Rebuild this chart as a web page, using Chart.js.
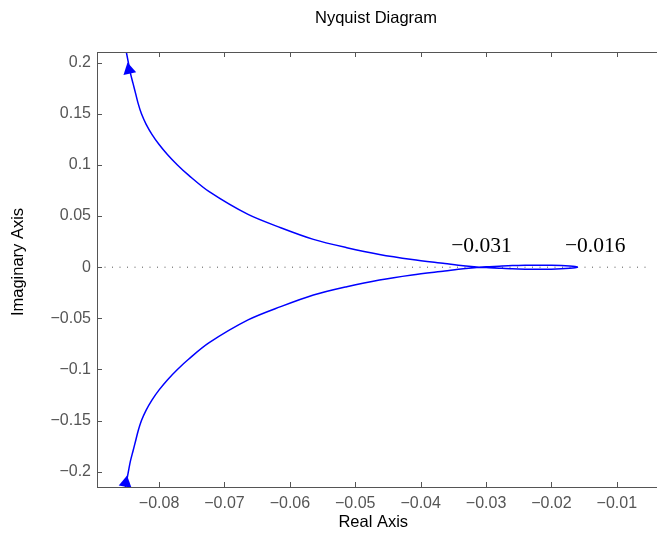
<!DOCTYPE html>
<html lang="en">
<head>
    <meta charset="UTF-8">
    <title>Nyquist Diagram</title>
    <script src="https://cdn.jsdelivr.net/npm/chart.js@4.4.1/dist/chart.umd.min.js"></script>
    <style>
        body {
            margin: 0;
            background: #fff;
            overflow: hidden;
        }
        #wrap {
            position: relative;
            width: 657px;
            height: 538px;
        }
    </style>
</head>
<body>
    <div id="wrap"><canvas id="nyquist"></canvas></div>

    <script>
        // upper branch, from the top edge down to the real-axis crossing
        const upperRe = [-0.0853, -0.0850, -0.0847, -0.0844, -0.0840, -0.0836, -0.0832, -0.0827, -0.0820, -0.0811,
                         -0.0800, -0.0787, -0.0772, -0.0755, -0.0724, -0.0664, -0.0614, -0.0564, -0.0513, -0.0463,
                         -0.0413, -0.0363, -0.0335, -0.0310];
        const upperIm = [0.220, 0.210, 0.200, 0.190, 0.180, 0.170, 0.160, 0.150, 0.140, 0.130,
                         0.120, 0.110, 0.100, 0.090, 0.0741, 0.0516, 0.0386, 0.0272, 0.0191, 0.0125,
                         0.0076, 0.0037, 0.0015, 0];

        // small loop right of the crossing (half height)
        const loopRe = [-0.0295, -0.0280, -0.0260, -0.0240, -0.0220, -0.0200, -0.0185, -0.0172, -0.0164, -0.0160];
        const loopIm = [0.0005, 0.0010, 0.0016, 0.0019, 0.0020, 0.0019, 0.0016, 0.0011, 0.0006, 0];

        // lower branch, from the crossing down to the bottom edge
        const lowerRe = [-0.0310, -0.0335, -0.0363, -0.0413, -0.0463, -0.0513, -0.0564, -0.0614, -0.0664, -0.0724,
                         -0.0755, -0.0772, -0.0787, -0.0800, -0.0811, -0.0820, -0.0827, -0.0832, -0.0836, -0.0840,
                         -0.0844, -0.0847, -0.0850, -0.0853];
        const lowerIm = [0, -0.0015, -0.0037, -0.0076, -0.0125, -0.0191, -0.0272, -0.0386, -0.0516, -0.0741,
                         -0.090, -0.100, -0.110, -0.120, -0.130, -0.140, -0.150, -0.160, -0.170, -0.180,
                         -0.190, -0.200, -0.210, -0.220];

        // direction arrows
        const arrowRe = [-0.0846, -0.0851];
        const arrowIm = [0.193, -0.211];
        const arrowAngle = [-12, 10];

        // text labels on the plot
        const noteText = ['\u22120.031', '\u22120.016'];
        const noteRe = [-0.0307, -0.0133];
        const noteIm = [0.020, 0.020];

        const xMin = -0.0895, xMax = -0.005;
        const yMin = -0.215, yMax = 0.2105;

        // build the path
        const path = [];
        upperRe.forEach((x, i) => path.push({ x: x, y: upperIm[i] }));
        loopRe.forEach((x, i) => path.push({ x: x, y: -loopIm[i] }));
        for (let i = loopRe.length - 2; i >= 0; i--) path.push({ x: loopRe[i], y: loopIm[i] });
        lowerRe.forEach((x, i) => path.push({ x: x, y: lowerIm[i] }));

        const arrows = arrowRe.map((x, i) => ({ x: x, y: arrowIm[i] }));

        const fmt = v => {
            const r = Math.round(v * 1000) / 1000;
            if (r === 0) return '0';
            return (r < 0 ? '\u2212' : '') + String(Math.abs(r));
        };

        const sans = '"Liberation Sans", Arial, sans-serif';

        const frame = {
            id: 'frame',
            afterDraw(chart) {
                const ctx = chart.ctx;
                const a = chart.chartArea;
                const xs = chart.scales.x, ys = chart.scales.y;
                ctx.save();
                ctx.strokeStyle = '#555';
                ctx.lineWidth = 1;
                ctx.beginPath();
                ctx.moveTo(Math.round(a.left) + 0.5, a.top);
                ctx.lineTo(Math.round(a.left) + 0.5, a.bottom);
                ctx.moveTo(a.left, Math.round(a.top) + 0.5);
                ctx.lineTo(chart.width, Math.round(a.top) + 0.5);
                ctx.moveTo(a.left, Math.round(a.bottom) + 0.5);
                ctx.lineTo(chart.width, Math.round(a.bottom) + 0.5);
                xs.ticks.forEach(t => {
                    const px = Math.round(xs.getPixelForValue(t.value)) + 0.5;
                    ctx.moveTo(px, a.top);
                    ctx.lineTo(px, a.top + 5);
                    ctx.moveTo(px, a.bottom);
                    ctx.lineTo(px, a.bottom - 5);
                });
                ys.ticks.forEach(t => {
                    const py = Math.round(ys.getPixelForValue(t.value)) + 0.5;
                    ctx.moveTo(a.left, py);
                    ctx.lineTo(a.left + 5, py);
                });
                ctx.stroke();

                ctx.fillStyle = '#000';
                ctx.textAlign = 'center';
                ctx.textBaseline = 'middle';

                // title
                ctx.font = '16.5px ' + sans;
                ctx.fillText('Nyquist Diagram', 376, 18);

                // y axis label
                ctx.save();
                ctx.translate(18, 262);
                ctx.rotate(-Math.PI / 2);
                ctx.fillText('Imaginary Axis', 0, 0);
                ctx.restore();

                // value notes
                ctx.font = '21.5px "Liberation Serif", "Times New Roman", serif';
                noteText.forEach((s, i) => {
                    ctx.fillText(s, xs.getPixelForValue(noteRe[i]), ys.getPixelForValue(noteIm[i]));
                });
                ctx.restore();
            }
        };

        new Chart(document.getElementById('nyquist'), {
            type: 'scatter',
            data: {
                datasets: [
                    {
                        data: arrows,
                        showLine: false,
                        pointStyle: 'triangle',
                        pointRadius: 7.5,
                        rotation: arrowAngle,
                        backgroundColor: '#0000ff',
                        borderColor: '#0000ff',
                        borderWidth: 0,
                        clip: false
                    },
                    {
                        data: path,
                        showLine: true,
                        pointRadius: 0,
                        borderColor: '#0000ff',
                        borderWidth: 1.5,
                        tension: 0.3
                    },
                    {
                        data: [{ x: xMin, y: 0 }, { x: xMax, y: 0 }],
                        showLine: true,
                        pointRadius: 0,
                        borderColor: '#555',
                        borderWidth: 1,
                        borderDash: [1, 6.5]
                    }
                ]
            },
            options: {
                responsive: true,
                maintainAspectRatio: false,
                animation: false,
                layout: { padding: { top: 52, right: -9, left: 0, bottom: 0 } },
                plugins: {
                    legend: { display: false },
                    tooltip: { enabled: false }
                },
                scales: {
                    x: {
                        type: 'linear',
                        min: xMin,
                        max: xMax,
                        grid: { display: false, drawTicks: false },
                        border: { display: false },
                        ticks: {
                            stepSize: 0.01,
                            includeBounds: false,
                            padding: 7,
                            color: '#555',
                            font: { family: sans, size: 16 },
                            callback: v => fmt(v),
                            maxRotation: 0,
                            autoSkip: false
                        },
                        title: {
                            display: true,
                            text: 'Real Axis',
                            color: '#000',
                            font: { family: sans, size: 16.5 },
                            padding: { top: 0, bottom: 6 }
                        },
                        afterFit: s => { s.height = 51; }
                    },
                    y: {
                        type: 'linear',
                        min: yMin,
                        max: yMax,
                        grid: { display: false, drawTicks: false },
                        border: { display: false },
                        ticks: {
                            stepSize: 0.05,
                            includeBounds: false,
                            padding: 6,
                            color: '#555',
                            font: { family: sans, size: 16 },
                            callback: v => fmt(v),
                            autoSkip: false
                        },
                        afterFit: s => { s.width = 97; }
                    }
                }
            },
            plugins: [frame]
        });
    </script>
</body>
</html>
